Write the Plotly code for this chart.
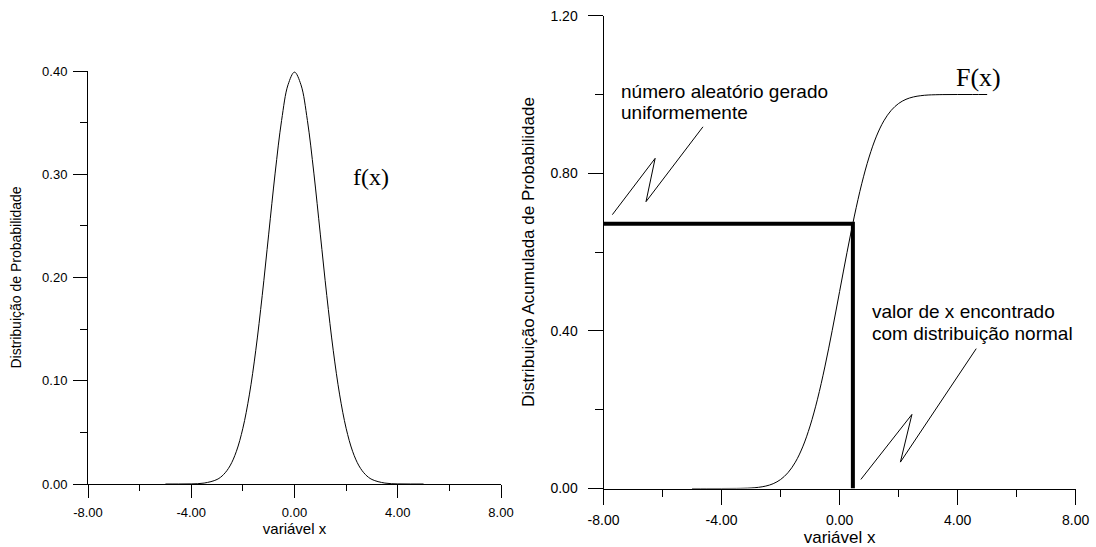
import plotly.graph_objects as go

# ---- data ----
x_vals = [-5.0, -4.5, -4.0, -3.5, -3.0, -2.75, -2.5, -2.25, -2.0, -1.75, -1.5, -1.25, -1.0, -0.75,
          -0.5, -0.25, 0.0, 0.25, 0.5, 0.75, 1.0, 1.25, 1.5, 1.75, 2.0, 2.25, 2.5, 2.75, 3.0,
          3.5, 4.0, 4.5, 5.0]
pdf_vals = [0.0000, 0.0000, 0.0001, 0.0009, 0.0044, 0.0091, 0.0175, 0.0317, 0.0540, 0.0863,
            0.1295, 0.1826, 0.2420, 0.3011, 0.3521, 0.3867, 0.3989, 0.3867, 0.3521, 0.3011,
            0.2420, 0.1826, 0.1295, 0.0863, 0.0540, 0.0317, 0.0175, 0.0091, 0.0044, 0.0009,
            0.0001, 0.0000, 0.0000]
cdf_vals = [0.0000, 0.0000, 0.0000, 0.0002, 0.0013, 0.0030, 0.0062, 0.0122, 0.0228, 0.0401,
            0.0668, 0.1056, 0.1587, 0.2266, 0.3085, 0.4013, 0.5000, 0.5987, 0.6915, 0.7734,
            0.8413, 0.8944, 0.9332, 0.9599, 0.9772, 0.9878, 0.9938, 0.9970, 0.9987, 0.9998,
            1.0000, 1.0000, 1.0000]

# sampled random number and resulting x
u_random = 0.672
x_found = 0.45

# annotation zig-zag pointers (data coords of right panel)
zig1_x = [-7.70, -6.25, -6.56, -4.63]
zig1_y = [0.695, 0.838, 0.728, 0.918]
zig2_x = [0.72, 2.45, 2.06, 4.63]
zig2_y = [0.023, 0.188, 0.067, 0.355]

x_ticks = [-8, -4, 0, 4, 8]
x_ticktext = ["-8.00", "-4.00", "0.00", "4.00", "8.00"]
y1_ticks = [0.0, 0.1, 0.2, 0.3, 0.4]
y1_ticktext = ["0.00", "0.10", "0.20", "0.30", "0.40"]
y2_ticks = [0.0, 0.4, 0.8, 1.2]
y2_ticktext = ["0.00", "0.40", "0.80", "1.20"]

W, H = 1096, 547

fig = go.Figure()

fig.add_trace(go.Scatter(x=x_vals, y=pdf_vals, mode="lines", line=dict(color="black", width=1, shape="spline"),
                         xaxis="x", yaxis="y", showlegend=False, hoverinfo="skip"))
fig.add_trace(go.Scatter(x=x_vals, y=cdf_vals, mode="lines", line=dict(color="black", width=1, shape="spline"),
                         xaxis="x2", yaxis="y2", showlegend=False, hoverinfo="skip"))
fig.add_trace(go.Scatter(x=[-8, x_found, x_found], y=[u_random, u_random, 0], mode="lines",
                         line=dict(color="black", width=4), xaxis="x2", yaxis="y2",
                         showlegend=False, hoverinfo="skip"))
for zx, zy in ((zig1_x, zig1_y), (zig2_x, zig2_y)):
    fig.add_trace(go.Scatter(x=zx, y=zy, mode="lines", line=dict(color="black", width=1),
                             xaxis="x2", yaxis="y2", showlegend=False, hoverinfo="skip"))

font_family = "Liberation Sans, Arial, sans-serif"


def axis(domain, rng, anchor, tickvals, ticktext, ticklen, minor_dtick, minor_len, tick_size,
         title, title_size, standoff, label_standoff):
    return dict(domain=domain, range=rng, anchor=anchor, automargin=False,
                tickvals=tickvals, ticktext=ticktext, ticklen=ticklen, ticks="outside",
                tickcolor="black", tickwidth=1, ticklabelstandoff=label_standoff,
                minor=dict(dtick=minor_dtick, tick0=0, ticklen=minor_len, ticks="outside",
                           tickcolor="black", tickwidth=1),
                showline=True, linecolor="black", linewidth=1, showgrid=False, zeroline=False,
                tickfont=dict(family=font_family, size=tick_size, color="black"),
                title=dict(text=title, font=dict(family=font_family, size=title_size, color="black"),
                           standoff=standoff))


fig.update_layout(
    width=W, height=H, margin=dict(l=0, r=0, t=0, b=0),
    paper_bgcolor="white", plot_bgcolor="white",
    xaxis=axis([88 / W, 501 / W], [-8, 8], "y", x_ticks, x_ticktext, 13, 2, 6, 13,
               "variável x", 15, 0, 3),
    yaxis=axis([(H - 484) / H, (H - 71) / H], [0, 0.4], "x", y1_ticks, y1_ticktext, 14, 0.05, 7, 13,
               "Distribuição de Probabilidade", 14, 17, 3),
    xaxis2=axis([603.5 / W, 1075.7 / W], [-8, 8], "y2", x_ticks, x_ticktext, 15, 2, 7, 14,
                "variável x", 17, 3, 4),
    yaxis2=axis([(H - 488.5) / H, (H - 15.7) / H], [0, 1.2], "x2", y2_ticks, y2_ticktext, 15, 0.2, 8, 14,
                "Distribuição Acumulada de Probabilidade", 17, 11, 7),
)

ann_font = dict(family=font_family, size=19, color="black")
serif = dict(family="Liberation Serif, Times New Roman, serif", color="black")
annotations = [
    dict(text="f(x)", x=2.97, y=0.297, xref="x", yref="y", showarrow=False, xanchor="center", yanchor="middle",
         font=dict(size=24, **serif)),
    dict(text="F(x)", x=4.72, y=1.043, xref="x2", yref="y2", showarrow=False, xanchor="center", yanchor="middle",
         font=dict(size=26, **serif)),
    dict(text="número aleatório gerado", x=-7.46, y=(489 - 92) / 394, xref="x2", yref="y2", showarrow=False,
         xanchor="left", yanchor="middle", font=ann_font),
    dict(text="uniformemente", x=-7.46, y=(489 - 113) / 394, xref="x2", yref="y2", showarrow=False,
         xanchor="left", yanchor="middle", font=ann_font),
    dict(text="valor de x encontrado", x=1.04, y=(489 - 312) / 394, xref="x2", yref="y2", showarrow=False,
         xanchor="left", yanchor="middle", font=ann_font),
    dict(text="com distribuição normal", x=1.04, y=(489 - 334) / 394, xref="x2", yref="y2", showarrow=False,
         xanchor="left", yanchor="middle", font=ann_font),
]
fig.update_layout(annotations=annotations)

fig.write_html("out.html")
